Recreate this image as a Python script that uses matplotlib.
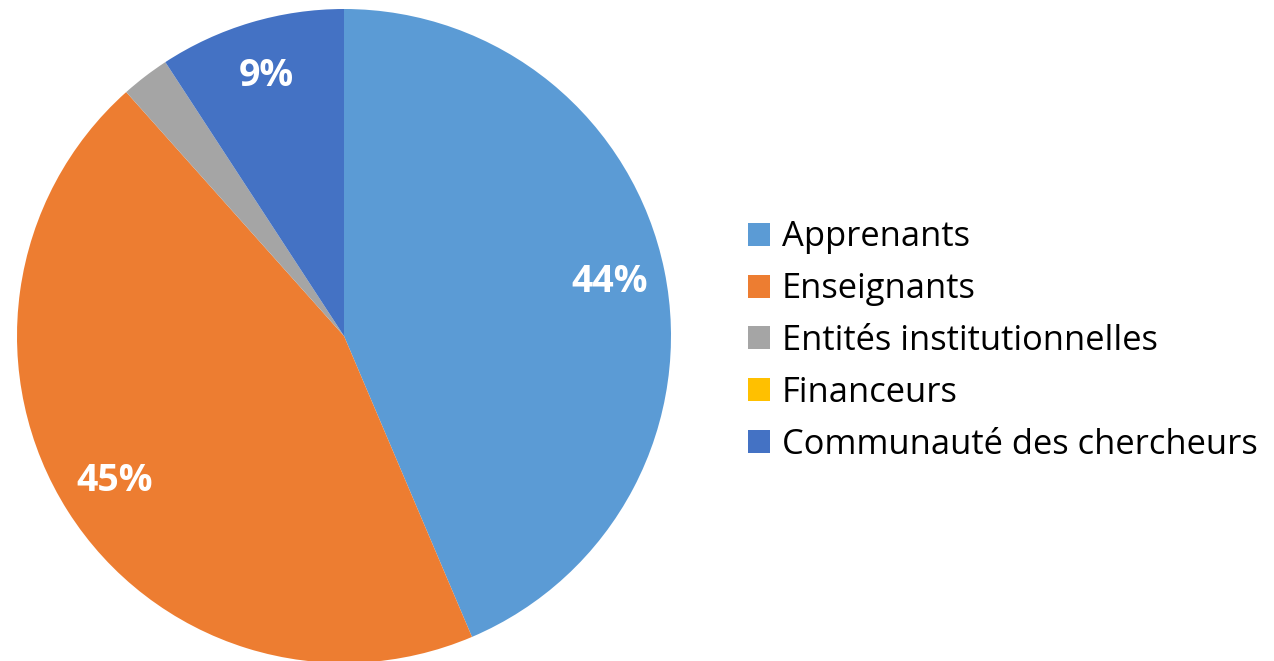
import matplotlib
matplotlib.use("Agg")
import matplotlib.pyplot as plt

# shares (percent)
categories = ["Apprenants", "Enseignants", "Entités institutionnelles",
              "Financeurs", "Communauté des chercheurs"]
shares = [43.6, 44.8, 2.4, 0.0, 9.2]
colors = ["#5B9BD5", "#ED7D31", "#A5A5A5", "#FFC000", "#4472C4"]

plt.rcParams["font.family"] = ["Open Sans", "DejaVu Sans"]

fig = plt.figure(figsize=(12.74, 6.61), dpi=100)
fig.patch.set_facecolor("white")

# pie centre ~ (344, 336) px, radius ~ 327 px
W, H = 1274, 661
cx, cy, r = 344, 336, 327
ax = fig.add_axes([(cx - r) / W, (H - cy - r) / H, 2 * r / W, 2 * r / H])


def fmt_pct(p):
    return f"{p:.0f}%" if p >= 5 else ""


wedges, texts, autotexts = ax.pie(
    shares, colors=colors, startangle=90, counterclock=False,
    autopct=fmt_pct, pctdistance=0.83, radius=1.0,
    wedgeprops=dict(linewidth=0),
    textprops=dict(color="white", fontsize=27, fontweight="bold"),
)
ax.set_xlim(-1, 1)
ax.set_ylim(-1, 1)
ax.set_aspect("equal")

leg = fig.legend(
    wedges, categories, loc="center left",
    bbox_to_anchor=(0.576, 0.484), frameon=False,
    fontsize=24.8, handlelength=0.65, handleheight=0.65,
    handletextpad=0.35, labelspacing=0.52, borderaxespad=0,
)

fig.savefig("out.png", dpi=100, facecolor="white")
